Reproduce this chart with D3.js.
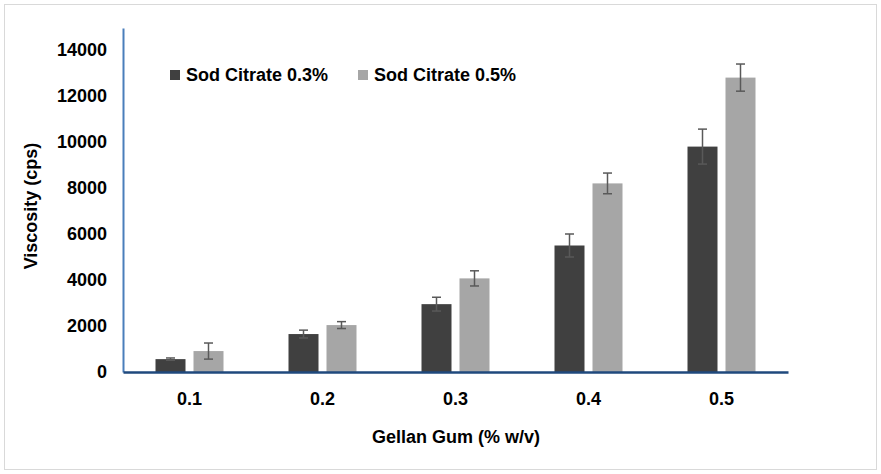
<!DOCTYPE html>
<html>
<head>
<meta charset="utf-8">
<script src="https://cdn.jsdelivr.net/npm/d3@7"></script>
<style>
  body { margin: 0; background: #fff; }
  text { font-family: "Liberation Sans", Arial, sans-serif; font-weight: bold; fill: #000; }
</style>
</head>
<body>
<div id="chart"></div>
<script>
// data
var categories = ["0.1", "0.2", "0.3", "0.4", "0.5"];
var seriesNames = ["Sod Citrate 0.3%", "Sod Citrate 0.5%"];
var citrate03 = [560, 1650, 2950, 5500, 9800];
var citrate05 = [910, 2040, 4070, 8200, 12800];
var err03 = [50, 170, 300, 500, 760];
var err05 = [350, 150, 330, 450, 590];
var yTicks = [0, 2000, 4000, 6000, 8000, 10000, 12000, 14000];

var colors = ["#404040", "#a6a6a6"];

var svgWidth = 881, svgHeight = 474;
var margin = { top: 28, left: 123, right: 93, bottom: 102 };
var width = svgWidth - margin.left - margin.right;
var height = svgHeight - margin.top - margin.bottom;

var svg = d3.select("#chart").append("svg")
  .attr("width", svgWidth)
  .attr("height", svgHeight);

// outer frame
svg.append("rect")
  .attr("x", 4.5).attr("y", 4.5)
  .attr("width", svgWidth - 9).attr("height", svgHeight - 9)
  .attr("fill", "none").attr("stroke", "#d9d9d9");

var g = svg.append("g").attr("transform", `translate(${margin.left},${margin.top})`);

var x0 = d3.scaleBand().domain(categories).range([0, width]);
var y = d3.scaleLinear().domain([0, 14000 * height / 322]).range([height, 0]);

var barW = 30, gap = 8;

// y axis
var yAxis = g.append("g")
  .call(d3.axisLeft(y).tickValues(yTicks).tickFormat(d3.format("d")).tickSize(0).tickPadding(16));
yAxis.select(".domain").attr("stroke", "#4a7ebb").attr("stroke-width", 2);
yAxis.selectAll("text").style("font-size", "18px").style("font-family", "Liberation Sans, Arial").style("font-weight", "bold");

// bars
var data = categories.map(function (c, i) {
  return [
    { cat: c, s: 0, v: citrate03[i], e: err03[i] },
    { cat: c, s: 1, v: citrate05[i], e: err05[i] }
  ];
});

function bx(d) {
  var c = x0(d.cat) + x0.bandwidth() / 2;
  return d.s === 0 ? c - gap / 2 - barW : c + gap / 2;
}

var flat = data.flat();

g.selectAll("rect.bar")
  .data(flat).enter().append("rect")
  .attr("class", "bar")
  .attr("x", bx)
  .attr("y", d => y(d.v))
  .attr("width", barW)
  .attr("height", d => height - y(d.v))
  .attr("fill", d => colors[d.s]);

// error bars
var eb = g.selectAll("g.err").data(flat).enter().append("g").attr("class", "err")
  .attr("stroke", "#595959").attr("stroke-width", 1.5);
eb.append("line")
  .attr("x1", d => bx(d) + barW / 2).attr("x2", d => bx(d) + barW / 2)
  .attr("y1", d => y(d.v + d.e)).attr("y2", d => y(d.v - d.e));
eb.append("line")
  .attr("x1", d => bx(d) + barW / 2 - 4.5).attr("x2", d => bx(d) + barW / 2 + 4.5)
  .attr("y1", d => y(d.v + d.e)).attr("y2", d => y(d.v + d.e));
eb.append("line")
  .attr("x1", d => bx(d) + barW / 2 - 4.5).attr("x2", d => bx(d) + barW / 2 + 4.5)
  .attr("y1", d => y(d.v - d.e)).attr("y2", d => y(d.v - d.e));

// x axis
var xAxis = g.append("g").attr("transform", `translate(0,${height})`)
  .call(d3.axisBottom(x0).tickSize(0).tickPadding(20));
xAxis.select(".domain").attr("stroke", "#1f497d").attr("stroke-width", 2.5);
xAxis.selectAll("text").style("font-size", "18px").style("font-family", "Liberation Sans, Arial").style("font-weight", "bold");

// axis titles
svg.append("text")
  .attr("transform", "translate(37,206) rotate(-90)")
  .attr("text-anchor", "middle")
  .style("font-size", "18px")
  .text("Viscosity (cps)");

svg.append("text")
  .attr("x", 456).attr("y", 443)
  .attr("text-anchor", "middle")
  .style("font-size", "18px")
  .text("Gellan Gum (% w/v)");

// legend
var legX = [170, 358];
var leg = svg.selectAll("g.leg").data(seriesNames).enter().append("g")
  .attr("class", "leg")
  .attr("transform", (d, i) => `translate(${legX[i]},68)`);
leg.append("rect").attr("width", 10).attr("height", 10).attr("y", 2)
  .attr("fill", (d, i) => colors[i]);
leg.append("text").attr("x", 16).attr("y", 13)
  .style("font-size", "18px")
  .text(d => d);
</script>
</body>
</html>
